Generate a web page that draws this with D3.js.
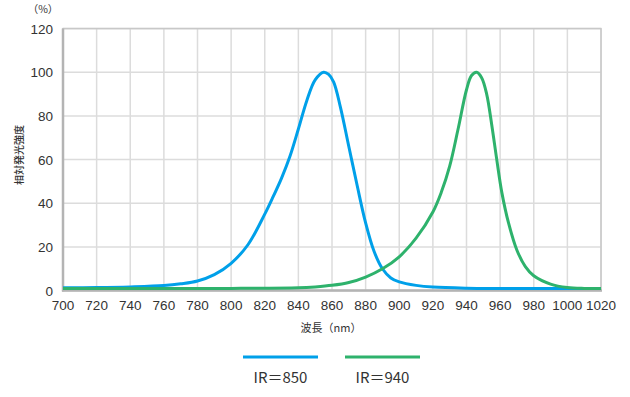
<!DOCTYPE html>
<html><head><meta charset="utf-8">
<script src="https://cdn.jsdelivr.net/npm/d3@7"></script>
<style>body{margin:0;background:#fff}svg{display:block}</style>
</head><body>
<svg id="c" width="630" height="397"></svg>
<script>
const xTicks = [700,720,740,760,780,800,820,840,860,880,900,920,940,960,980,1000,1020];
const yTicks = [0,20,40,60,80,100,120];
const seriesNames = ["IR＝850","IR＝940"];
const seriesColors = ["#00a0e9","#2eb26c"];
const wl850 = [700,720,740,760,770,780,790,800,810,820,825,830,835,840,845,850,855,858,861,865,870,875,880,885,890,895,900,910,920,940,960,1000,1020];
const v850  = [1.3,1.4,1.7,2.3,3.1,4.4,7.3,12.5,21,35,43,51.5,61.5,74,87,96.5,100,99,95.5,84,66,48,31,18,10,5.8,4,2.4,1.6,1.1,1.0,1.0,1.0];
const wl940 = [700,800,840,850,860,870,880,890,900,910,920,925,930,935,940,943,946,949,952,955,958,961,965,970,975,980,990,1000,1010,1020];
const v940  = [1.0,1.0,1.3,1.7,2.4,3.7,6.2,10,15.5,24,36,45,57,74,92,98.5,100,97.5,90,76,60,45,31,18.5,11,6.8,3,1.4,1.0,1.0];

const svg = d3.select("#c");
const x = d3.scaleLinear().domain([700,1020]).range([63,601]);
const y = d3.scaleLinear().domain([0,120]).range([290.6,28.6]);
const numFont = "'Liberation Sans', Arial, sans-serif";
const jpFont = "'Noto Sans CJK JP', sans-serif";

// grid
svg.append("g").selectAll("line").data(xTicks).join("line")
  .attr("x1",d=>x(d)).attr("x2",d=>x(d)).attr("y1",y(120)).attr("y2",y(0))
  .attr("stroke","#dcdcdc").attr("stroke-width",1.5);
svg.append("g").selectAll("line").data(yTicks).join("line")
  .attr("x1",x(700)).attr("x2",x(1020)).attr("y1",d=>y(d)).attr("y2",d=>y(d))
  .attr("stroke","#dcdcdc").attr("stroke-width",1.5);
// frame
svg.append("rect").attr("x",x(700)).attr("y",y(120)).attr("width",x(1020)-x(700)).attr("height",y(0)-y(120))
  .attr("fill","none").attr("stroke","#c8c8c8").attr("stroke-width",1.5);
svg.append("line").attr("x1",x(700)).attr("x2",x(700)).attr("y1",y(120)).attr("y2",y(0)+1)
  .attr("stroke","#b4b4b4").attr("stroke-width",2.5);
svg.append("line").attr("x1",x(700)-1).attr("x2",x(1020)+1).attr("y1",y(0)).attr("y2",y(0))
  .attr("stroke","#b4b4b4").attr("stroke-width",2.5);

// tick labels
svg.append("g").selectAll("text").data(yTicks).join("text")
  .attr("x",53).attr("y",d=>y(d)+5).attr("text-anchor","end")
  .attr("font-family",numFont).attr("font-size",13.5).attr("fill","#333").text(d=>d);
svg.append("g").selectAll("text").data(xTicks).join("text")
  .attr("x",d=>x(d)).attr("y",310).attr("text-anchor","middle")
  .attr("font-family",numFont).attr("font-size",13.5).attr("fill","#333").text(d=>d);

svg.append("text").attr("x",43).attr("y",13).attr("text-anchor","middle")
  .attr("font-family",jpFont).attr("font-size",10.5).attr("fill","#333").text("（%）");
svg.append("text").attr("transform","translate(23,155) rotate(-90)").attr("text-anchor","middle")
  .attr("font-family",jpFont).attr("font-size",10).attr("font-weight",500).attr("fill","#333").text("相対発光強度");
svg.append("text").attr("x",331).attr("y",332).attr("text-anchor","middle")
  .attr("font-family",jpFont).attr("font-size",11).attr("fill","#333").text("波長（nm）");

// lines
const line = d3.line().x(d=>x(d[0])).y(d=>y(d[1])).curve(d3.curveCatmullRom.alpha(0.5));
const data = [d3.zip(wl850,v850), d3.zip(wl940,v940)];
svg.append("g").selectAll("path").data(data).join("path")
  .attr("d",line).attr("fill","none").attr("stroke",(d,i)=>seriesColors[i])
  .attr("stroke-width",3).attr("stroke-linejoin","round");

// legend
const legX = [243,345];
const lg = svg.append("g").selectAll("g").data(seriesNames).join("g");
lg.append("line").attr("x1",(d,i)=>legX[i]).attr("x2",(d,i)=>legX[i]+75)
  .attr("y1",357).attr("y2",357).attr("stroke",(d,i)=>seriesColors[i]).attr("stroke-width",3);
lg.append("text").attr("x",(d,i)=>legX[i]+37.5).attr("y",383).attr("text-anchor","middle")
  .attr("font-family",jpFont).attr("font-size",15).attr("fill","#333").text(d=>d);
</script>
</body></html>
